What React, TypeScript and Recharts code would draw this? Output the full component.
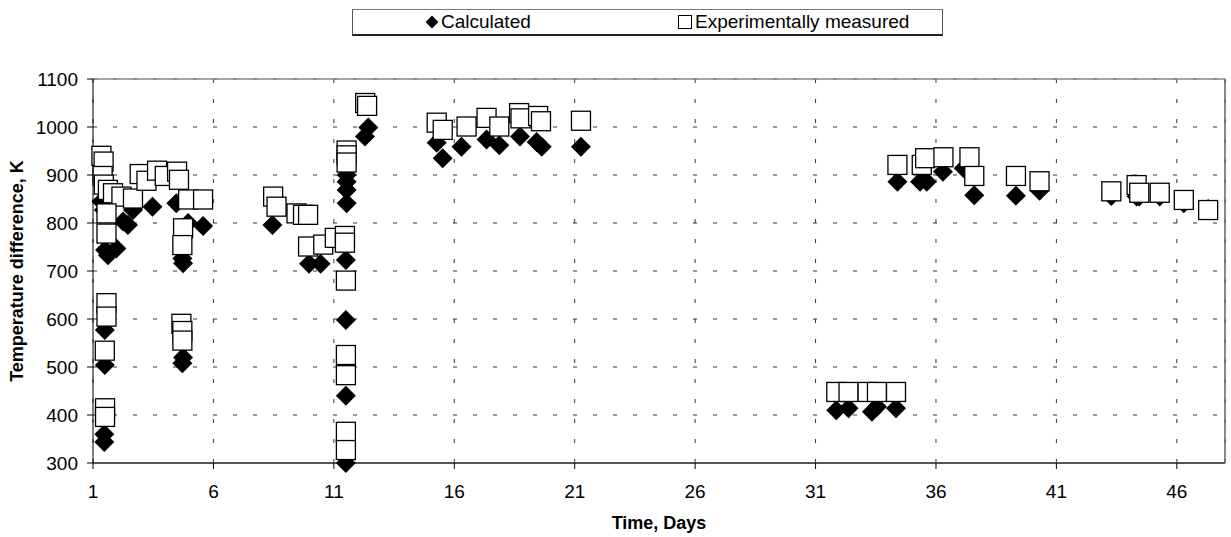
import React from 'react'
import {
  ScatterChart,
  Scatter,
  XAxis,
  YAxis,
  CartesianGrid,
  ReferenceLine,
} from 'recharts'

const dayTicks = [1, 6, 11, 16, 21, 26, 31, 36, 41, 46]
const tempTicks = [300, 400, 500, 600, 700, 800, 900, 1000, 1100]

// calculated temperature difference
const calcDays = [
  1.35, 1.45, 1.5, 1.62, 1.97, 2.25, 2.45, 2.66, 3.47, 4.46, 4.74, 4.71, 4.71, 4.74, 5.57, 4.95,
  1.49, 1.49, 1.47, 1.47, 8.45, 9.97, 10.45, 11.5, 11.5, 11.5, 11.5, 11.53, 11.53, 11.53, 11.53,
  12.29, 12.43, 15.27, 15.52, 16.3, 17.34, 17.87, 18.73, 19.42, 19.63, 21.26,
  31.86, 32.37, 33.34, 33.55, 34.34, 34.4, 35.34, 35.62, 36.29, 37.15, 37.59,
  39.32, 40.3, 43.28, 44.33, 44.44, 45.29, 46.29, 47.3,
]
const calcTemps = [
  845, 827, 744, 733, 747, 803, 796, 827, 834, 841, 716, 726, 508, 520, 794, 800,
  577, 504, 344, 360, 796, 715, 715, 723, 598, 440, 300, 841, 869, 886, 900,
  980, 999, 967, 935, 959, 974, 962, 980, 969, 959, 959,
  410, 414, 407, 417, 414, 886, 886, 886, 907, 914, 858,
  857, 867, 856, 855, 855, 855, 841, 829,
]

// experimentally measured temperature difference
const expDays = [
  1.35, 1.44, 1.4, 1.45, 1.62, 1.83, 2.18, 2.66, 2.94, 3.22, 3.66, 3.98, 4.49, 4.57, 4.95, 5.57,
  1.56, 1.56, 4.74, 4.71, 1.56, 1.56, 1.49, 4.67, 4.71, 4.71, 1.5, 1.5,
  8.48, 8.62, 9.45, 9.72, 9.93, 9.93, 10.56, 11.04, 11.46, 11.46, 11.5, 11.5, 11.5, 11.5, 11.5,
  11.53, 11.53, 11.53, 12.3, 12.38, 15.27, 15.52, 16.51, 17.34, 17.87, 18.69, 18.75, 19.48, 19.6, 21.26,
  31.86, 32.37, 33.16, 33.55, 34.34, 34.4, 35.41, 35.55, 36.31, 37.39, 37.59,
  39.32, 40.3, 43.28, 44.33, 44.44, 45.29, 46.29, 47.3,
]
const expTemps = [
  940, 928, 898, 880, 869, 862, 855, 851, 902, 888, 909, 898, 907, 890, 849, 849,
  820, 778, 789, 754, 633, 605, 534, 590, 575, 555, 414, 396,
  855, 834, 820, 817, 817, 751, 755, 769, 773, 759, 680, 525, 483, 365, 327,
  951, 941, 926, 1050, 1044, 1009, 994, 1001, 1019, 1001, 1029, 1018, 1023, 1012, 1013,
  448, 448, 448, 448, 448, 921, 921, 935, 937, 937, 898,
  898, 887, 866, 879, 863, 863, 848, 827,
]

const calcData = calcDays.map((d, i) => ({ day: d, temp: calcTemps[i] }))
const expData = expDays.map((d, i) => ({ day: d, temp: expTemps[i] }))

const FONT = '"Liberation Sans", Arial, sans-serif'

const Diamond = (props: any) => {
  const { cx, cy } = props
  const r = 10
  return (
    <polygon
      points={`${cx},${cy - r} ${cx + r},${cy} ${cx},${cy + r} ${cx - r},${cy}`}
      fill="#000"
    />
  )
}

const Square = (props: any) => {
  const { cx, cy } = props
  const s = 19
  return (
    <rect x={cx - s / 2} y={cy - s / 2} width={s} height={s} fill="#fff" stroke="#000" strokeWidth={1.3} />
  )
}

const YTitle = (props: any) => {
  const vb = props.viewBox
  const x = vb.x + 17
  const y = vb.y + vb.height / 2
  return (
    <text
      x={x}
      y={y}
      transform={`rotate(-90 ${x} ${y})`}
      textAnchor="middle"
      dominantBaseline="central"
      fontSize={18}
      fontWeight="bold"
      fontFamily={FONT}
      fill="#000"
    >
      Temperature difference, K
    </text>
  )
}

const XTitle = (props: any) => {
  const vb = props.viewBox
  return (
    <text
      x={vb.x + vb.width / 2}
      y={vb.y + 60}
      textAnchor="middle"
      dominantBaseline="central"
      fontSize={18}
      fontWeight="bold"
      fontFamily={FONT}
      fill="#000"
    >
      Time, Days
    </text>
  )
}

function ChartLegend() {
  return (
    <div
      style={{
        position: 'absolute',
        left: 352,
        top: 9,
        width: 591,
        height: 27,
        boxSizing: 'border-box',
        borderTop: '1px solid #777',
        borderLeft: '1px solid #555',
        borderRight: '1px solid #555',
        borderBottom: '2px solid #222',
        background: '#fff',
        fontFamily: FONT,
        fontSize: 19,
      }}
    >
      <div style={{ position: 'absolute', left: 72, top: 0, height: 24, display: 'flex', alignItems: 'center' }}>
        <svg width={14} height={14} style={{ marginRight: 2 }}>
          <polygon points="7,0.5 13.5,7 7,13.5 0.5,7" fill="#000" />
        </svg>
        <span>Calculated</span>
      </div>
      <div style={{ position: 'absolute', left: 325, top: 0, height: 24, display: 'flex', alignItems: 'center' }}>
        <svg width={15} height={14} style={{ marginRight: 2 }}>
          <rect x={0.5} y={0.5} width={13} height={13} fill="#fff" stroke="#000" strokeWidth={1} />
        </svg>
        <span>Experimentally measured</span>
      </div>
    </div>
  )
}

export default function App() {
  return (
    <div
      style={{
        position: 'absolute',
        left: 0,
        top: 0,
        width: 1231,
        height: 537,
        background: '#fff',
        fontFamily: FONT,
      }}
    >
      <ScatterChart width={1231} height={537} margin={{ top: 79, right: 6, bottom: 0, left: 0 }}>
        <CartesianGrid strokeDasharray="4 16" stroke="#333" />
        <XAxis
          type="number"
          dataKey="day"
          domain={[1, 48]}
          ticks={dayTicks}
          interval={0}
          height={74}
          tickSize={6}
          tickMargin={16}
          tick={{ fill: '#000', fontSize: 19, fontFamily: FONT }}
          axisLine={{ stroke: '#555', strokeWidth: 2 }}
          tickLine={{ stroke: '#000' }}
          label={<XTitle />}
        />
        <YAxis
          type="number"
          dataKey="temp"
          domain={[300, 1100]}
          ticks={tempTicks}
          interval={0}
          width={93}
          tickSize={6}
          tickMargin={9}
          tick={{ fill: '#000', fontSize: 19, fontFamily: FONT }}
          axisLine={{ stroke: '#000' }}
          tickLine={{ stroke: '#000' }}
          label={<YTitle />}
        />
        <ReferenceLine y={1100} stroke="#888" strokeWidth={1.5} />
        <ReferenceLine x={48} stroke="#666" strokeWidth={1.5} />
        <Scatter name="Calculated" data={calcData} shape={Diamond} isAnimationActive={false} />
        <Scatter name="Experimentally measured" data={expData} shape={Square} isAnimationActive={false} />
      </ScatterChart>
      <ChartLegend />
    </div>
  )
}
